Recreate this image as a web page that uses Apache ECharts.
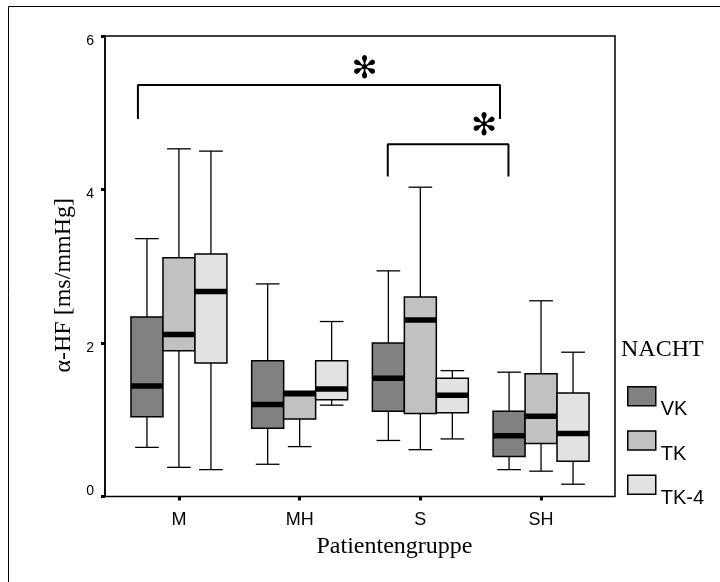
<!DOCTYPE html>
<html><head><meta charset="utf-8">
<script src="https://cdn.jsdelivr.net/npm/echarts@6/dist/echarts.min.js"></script>
<style>html,body{margin:0;padding:0;background:#fff}#c{width:720px;height:582px}</style>
</head><body><div id="c"></div>
<script>
// ---- data ----
const categories = ['M', 'MH', 'S', 'SH'];
const seriesNames = ['VK', 'TK', 'TK-4'];
// each entry: [min, Q1, median, Q3, max]
const vkStats  = [[0.64, 1.04, 1.44, 2.34, 3.36], [0.42, 0.89, 1.20, 1.77, 2.77], [0.73, 1.11, 1.54, 2.00, 2.94], [0.35, 0.52, 0.79, 1.11, 1.62]];
const tkStats  = [[0.38, 1.90, 2.11, 3.11, 4.53], [0.65, 1.01, 1.34, 1.37, 1.37], [0.61, 1.08, 2.30, 2.60, 4.03], [0.33, 0.69, 1.045, 1.60, 2.55]];
const tk4Stats = [[0.35, 1.74, 2.67, 3.16, 4.50], [1.19, 1.26, 1.40, 1.77, 2.28], [0.75, 1.09, 1.32, 1.54, 1.64], [0.16, 0.46, 0.82, 1.35, 1.88]];
const yTicks = [0, 2, 4, 6];
// significance brackets (x in category units, y in data units)
const bracketStart = [-0.34, 1.73];
const bracketEnd   = [2.66, 2.73];
const bracketTop   = [5.36, 4.59];
const bracketFoot  = [4.92, 4.17];
const starX = [1.54, 2.53];
const starY = [5.56, 4.81];

// ---- style ----
const colors = ['#818181', '#c1c1c1', '#e2e2e2'];
const statsList = [vkStats, tkStats, tk4Stats];
const SERIF = '"Liberation Serif", "Times New Roman", serif';
const SANS = '"Liberation Sans", Arial, sans-serif';
const BOX_FRAC = 0.265, CAP_FRAC = 0.196;

function boxRender(slot) {
  return function (params, api) {
    const ci = api.value(0);
    const band = api.size([1, 0])[0];
    const bw = band * BOX_FRAC;
    const cap = band * CAP_FRAC;
    const cx = api.coord([ci, 0])[0] + (slot - 1) * bw;
    const y = k => api.coord([ci, api.value(k)])[1];
    const yMin = y(1), yQ1 = y(2), yMed = y(3), yQ3 = y(4), yMax = y(5);
    const ls = { stroke: '#000', lineWidth: 1.3 };
    const ch = [];
    if (yQ3 - yMax > 0.5) {
      ch.push({ type: 'line', shape: { x1: cx, y1: yMax, x2: cx, y2: yQ3 }, style: ls });
      ch.push({ type: 'line', shape: { x1: cx - cap / 2, y1: yMax, x2: cx + cap / 2, y2: yMax }, style: ls });
    }
    if (yMin - yQ1 > 0.5) {
      ch.push({ type: 'line', shape: { x1: cx, y1: yQ1, x2: cx, y2: yMin }, style: ls });
      ch.push({ type: 'line', shape: { x1: cx - cap / 2, y1: yMin, x2: cx + cap / 2, y2: yMin }, style: ls });
    }
    ch.push({ type: 'rect', shape: { x: cx - bw / 2, y: yQ3, width: bw, height: yQ1 - yQ3 },
      style: { fill: api.visual('color'), stroke: '#000', lineWidth: 1.5 } });
    ch.push({ type: 'line', shape: { x1: cx - bw / 2, y1: yMed, x2: cx + bw / 2, y2: yMed },
      style: { stroke: '#000', lineWidth: 5.5 } });
    return { type: 'group', children: ch };
  };
}

const series = seriesNames.map((name, s) => ({
  type: 'custom', name, xAxisIndex: 0, yAxisIndex: 0,
  itemStyle: { color: colors[s] },
  encode: { x: 0, y: [1, 2, 3, 4, 5] },
  data: statsList[s].map((st, i) => [i].concat(st)),
  renderItem: boxRender(s)
}));

bracketStart.forEach((x0, i) => {
  series.push({
    type: 'line', xAxisIndex: 1, yAxisIndex: 0, symbol: 'none', silent: true, z: 5,
    lineStyle: { color: '#000', width: 2 },
    data: [[x0, bracketFoot[i]], [x0, bracketTop[i]], [bracketEnd[i], bracketTop[i]], [bracketEnd[i], bracketFoot[i]]]
  });
});

series.push({
  type: 'custom', xAxisIndex: 1, yAxisIndex: 0, silent: true, z: 5,
  data: starX.map((x, i) => [x, starY[i]]),
  encode: { x: 0, y: 1 },
  renderItem: function (params, api) {
    const p = api.coord([api.value(0), api.value(1)]);
    return { type: 'text', x: p[0], y: p[1],
      style: { text: '\u273B', fontSize: 31, fontFamily: '"DejaVu Sans"', fill: '#000', align: 'center', verticalAlign: 'middle' } };
  }
});

const chart = echarts.init(document.getElementById('c'));
chart.setOption({
  animation: false,
  backgroundColor: '#fff',
  title: { text: 'NACHT', left: 621, top: 338, padding: 0,
    textStyle: { fontFamily: SERIF, fontSize: 24, fontWeight: 'normal', color: '#000' } },
  legend: {
    orient: 'vertical', left: 627, top: 386, padding: 0, icon: 'rect',
    itemWidth: 28, itemHeight: 19, itemGap: 10.5, selectedMode: false,
    data: seriesNames.map((n, i) => ({ name: n, itemStyle: { color: colors[i], borderColor: '#000', borderWidth: 1.5 } })),
    formatter: n => '{t|' + n + '}',
    textStyle: { fontFamily: SANS, fontSize: 20, color: '#000',
      rich: { t: { fontFamily: SANS, fontSize: 20, color: '#000', padding: [27, 0, 0, 0] } } }
  },
  grid: [
    { left: 118.6, width: 482.8, top: 36, height: 460.5 },
    { left: 105, width: 510, top: 36, height: 460.5, show: true, borderColor: '#000', borderWidth: 1.5, backgroundColor: 'transparent' }
  ],
  xAxis: [
    { type: 'category', gridIndex: 0, data: categories,
      axisLine: { show: false, onZero: false },
      axisTick: { show: true, alignWithLabel: true, length: 4, lineStyle: { color: '#000', width: 3 } },
      axisLabel: { fontFamily: SANS, fontSize: 18, color: '#000', margin: 15 },
      name: 'Patientengruppe', nameLocation: 'middle', nameGap: 38,
      nameTextStyle: { fontFamily: SERIF, fontSize: 24, color: '#000', padding: [0, 0, 0, 69] } },
    { type: 'value', gridIndex: 0, min: -0.5, max: 3.5, show: false },
    { type: 'value', gridIndex: 1, min: 0, max: 1, show: false }
  ],
  yAxis: [
    { type: 'value', gridIndex: 0, min: 0, max: 6, interval: 2, offset: 13.6,
      axisLine: { show: true, onZero: false, lineStyle: { color: '#000', width: 1.5 } },
      axisTick: { show: true, length: 4, lineStyle: { color: '#000', width: 3 } },
      splitLine: { show: false },
      axisLabel: { fontFamily: SANS, fontSize: 14, color: '#000', margin: 11,
        formatter: v => yTicks.indexOf(v) < 0 ? '' : (v === 0 ? '{up|' + v + '}' : '{dn|' + v + '}'),
        rich: { up: { padding: [0, 0, 11, 0], fontSize: 14, fontFamily: SANS, color: '#000' },
                dn: { padding: [10, 0, 0, 0], fontSize: 14, fontFamily: SANS, color: '#000' } } },
      name: 'α-HF [ms/mmHg]', nameLocation: 'middle', nameGap: 27, nameRotate: 90,
      nameTextStyle: { fontFamily: SERIF, fontSize: 24, color: '#000', padding: [0, 38, 0, 0] } },
    { type: 'value', gridIndex: 1, min: 0, max: 1, show: false }
  ],
  graphic: [
    { type: 'rect', silent: true, shape: { x: 8.5, y: 6.5, width: 760, height: 640 },
      style: { fill: 'none', stroke: '#000', lineWidth: 1 } }
  ],
  series
});
</script></body></html>
